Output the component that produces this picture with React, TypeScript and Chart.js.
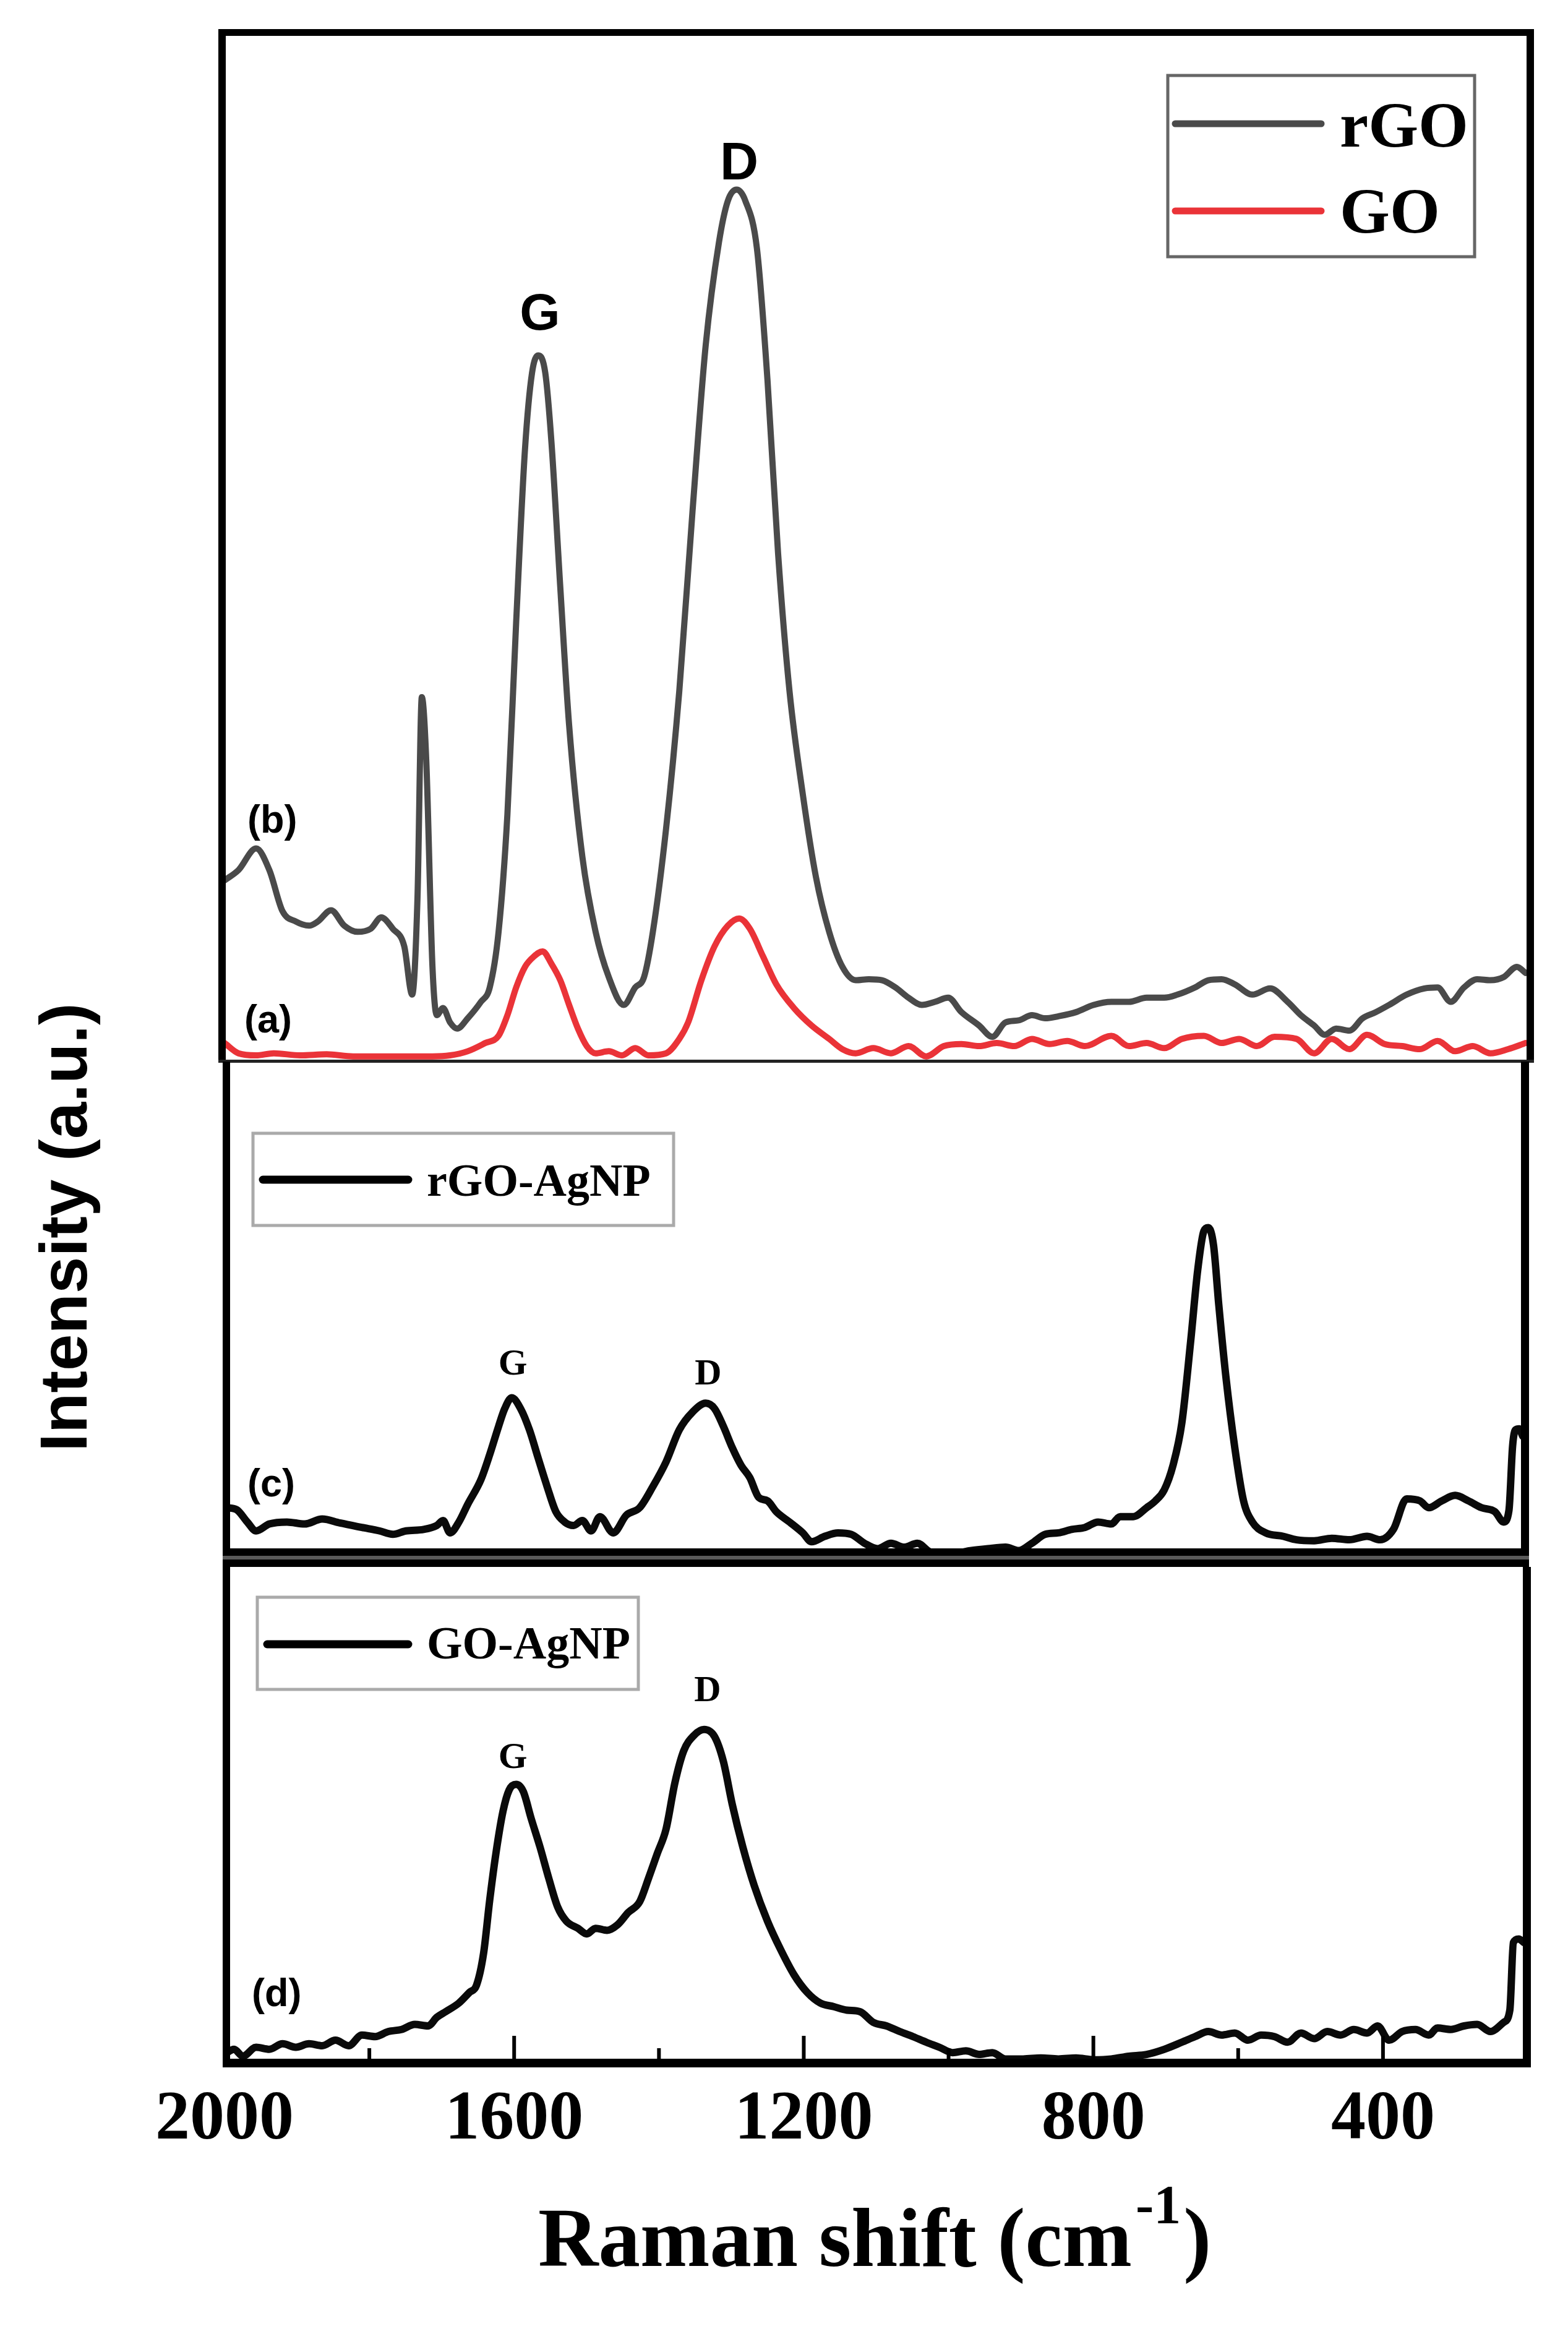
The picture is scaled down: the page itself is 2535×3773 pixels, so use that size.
import React, { useEffect, useRef } from 'react';
import { Chart, registerables } from 'chart.js';

Chart.register(...registerables);

// ---------- data (Raman shift in cm^-1, intensity in a.u. per panel) ----------
const rgoShift = [2000,1980.7,1956.4,1938.1,1919.9,1901.6,1883.3,1871.1,1852.9,1834.6,1816.3,1798.1,1783.5,1767.6,1751.8,1740.8,1733.5,1727.5,1721.4,1712.8,1706.8,1698.2,1688.5,1678.7,1664.1,1645.9,1633.7,1621.5,1609.3,1597.2,1585.0,1575.3,1566.7,1557.0,1548.5,1536.3,1524.1,1505.8,1487.5,1469.3,1448.6,1432.8,1420.6,1408.4,1390.2,1371.9,1353.6,1335.4,1317.1,1304.9,1292.7,1280.6,1264.7,1250.1,1235.5,1219.7,1201.4,1183.1,1164.9,1146.6,1128.3,1110.1,1091.8,1073.5,1055.3,1037.0,1018.8,1000.5,982.2,957.9,939.6,921.4,903.1,884.8,866.5,848.3,823.9,799.6,775.2,750.9,726.5,702.2,683.9,659.6,641.3,623.0,604.7,580.4,556.0,531.7,513.4,495.1,480.5,464.7,446.4,428.2,409.9,391.6,367.3,342.9,324.7,306.4,288.1,269.9,251.6,233.3,215.1,202.9];
const rgoIntensity = [17.6,18.6,20.7,18.6,14.6,13.6,13.2,13.6,14.7,13.2,12.6,12.9,14.0,12.9,11.2,6.5,15.9,35.4,29.3,9.2,4.5,5.2,3.8,3.2,4.2,5.8,7.2,12.6,24.0,42.7,59.5,66.9,68.6,66.9,60.2,46.1,32.7,19.9,12.6,8.2,5.5,7.2,8.2,12.6,22.6,36.0,53.5,69.6,79.6,83.6,84.7,83.6,79.0,66.2,49.4,36.0,26.0,17.9,12.6,9.2,7.9,8.0,7.9,7.2,6.2,5.5,5.8,6.2,4.8,3.5,2.4,3.8,4.0,4.5,4.2,4.4,4.8,5.5,5.8,5.8,6.2,6.2,6.5,7.2,7.9,8.0,7.5,6.5,7.1,5.8,4.5,3.5,2.6,3.2,3.0,4.2,4.8,5.5,6.5,7.1,7.2,5.8,7.2,8.0,7.9,8.2,9.2,8.6];

const goShift = [2000,1980.7,1956.4,1932.0,1895.5,1859.0,1822.4,1785.9,1749.4,1712.8,1688.5,1664.1,1639.8,1621.5,1609.3,1597.2,1585.0,1572.8,1560.6,1548.5,1536.3,1524.1,1511.9,1499.7,1487.5,1469.3,1451.0,1432.8,1414.5,1390.2,1371.9,1359.7,1341.4,1323.2,1304.9,1289.1,1274.5,1256.2,1237.9,1213.6,1189.2,1164.9,1146.6,1128.3,1104.0,1079.6,1055.3,1030.9,1006.6,982.2,957.9,933.5,909.2,884.8,860.5,836.1,811.7,775.2,750.9,726.5,702.2,677.8,647.4,623.0,598.6,574.3,549.9,519.5,495.1,470.8,446.4,422.1,397.7,373.4,349.0,324.7,300.3,276.0,251.6,227.2,202.9];
const goIntensity = [1.8,0.8,0.6,0.8,0.6,0.7,0.5,0.5,0.5,0.5,0.6,1.0,1.8,2.5,4.5,7.2,9.2,10.2,10.7,9.5,7.9,5.5,3.2,1.5,0.8,1.0,0.6,1.3,0.6,0.8,2.2,3.8,7.9,11.2,13.2,13.9,12.9,10.2,7.5,5.2,3.5,2.2,1.2,0.8,1.3,0.8,1.5,0.5,1.5,1.7,1.5,1.8,1.5,2.2,1.7,2.0,1.5,2.5,1.5,1.8,1.3,2.2,2.5,1.8,2.2,1.5,2.4,2.2,0.8,2.2,1.2,2.6,1.7,1.5,1.2,2.0,1.0,1.5,0.8,1.2,1.8];

const rgoAgShift = [1997,1983.2,1968.6,1956.4,1938.1,1913.8,1889.4,1865.1,1840.7,1810.3,1785.9,1767.6,1749.4,1725.0,1706.8,1698.2,1688.5,1676.3,1664.1,1645.9,1633.7,1621.5,1613.0,1603.3,1591.1,1578.9,1566.7,1554.5,1542.4,1530.2,1518.0,1505.8,1493.7,1481.5,1463.2,1445.0,1426.7,1408.4,1390.2,1371.9,1353.6,1335.4,1323.2,1311.0,1298.8,1286.6,1274.5,1262.3,1250.1,1237.9,1219.7,1201.4,1189.2,1171.0,1152.7,1134.4,1116.2,1097.9,1079.6,1061.4,1043.1,1024.8,994.4,970.0,945.7,921.3,903.1,884.8,866.5,848.3,830.0,811.7,793.5,775.2,763.0,744.8,726.5,714.3,702.2,690.0,677.8,665.6,655.9,647.4,641.3,634.0,626.7,617.0,604.7,592.6,580.4,562.1,537.8,519.5,495.1,470.8,446.4,422.1,403.8,385.6,367.3,349.0,336.8,318.6,300.3,282.1,263.8,245.5,233.3,226.0,221.0,217.0,212.0,207.0];
const rgoAgIntensity = [9.5,9.1,6.6,4.8,6.2,6.6,6.2,7.2,6.4,5.5,4.8,4.1,4.8,5.1,5.9,6.9,4.4,6.6,10.2,15.2,20.3,26.0,29.6,31.8,29.6,25.3,19.5,13.8,8.7,6.6,5.9,6.9,4.8,7.7,4.4,8.0,9.5,13.8,18.8,25.3,28.9,30.7,29.6,26.0,21.7,18.1,15.6,11.6,10.9,8.7,6.6,4.4,2.6,3.7,4.4,4.1,2.3,1.2,2.3,1.5,2.3,0.5,0.2,0.8,1.2,1.5,0.8,2.3,4.1,4.4,5.1,5.5,6.6,6.2,7.7,7.7,9.5,10.9,13.1,18.1,26.7,43.3,57.7,65.6,66.3,62.7,50.5,36.1,21.7,10.9,6.6,4.4,3.7,3.0,2.8,3.3,3.0,3.7,3.0,5.1,11.3,10.9,9.5,10.9,12.0,10.9,9.5,8.7,6.6,9.0,22.0,25.3,25.5,24.0];

const goAgShift = [2000,1986.8,1974.7,1956.4,1938.1,1919.9,1901.6,1883.3,1865.1,1846.8,1828.5,1810.3,1792.0,1773.7,1755.5,1737.2,1718.9,1706.8,1694.6,1676.3,1661.7,1652.0,1642.2,1633.7,1625.2,1615.4,1606.9,1597.2,1587.4,1576.5,1564.3,1552.1,1539.9,1527.8,1511.9,1499.7,1487.5,1471.7,1457.1,1442.5,1426.7,1414.5,1402.3,1390.2,1378.0,1365.8,1351.2,1337.8,1323.2,1311.0,1298.8,1284.2,1268.4,1250.1,1231.9,1213.6,1195.3,1177.1,1158.8,1140.5,1122.3,1104.0,1085.7,1067.5,1049.2,1030.9,1012.7,994.4,976.1,957.9,939.6,921.3,897.0,872.6,848.3,823.9,799.6,775.2,750.9,726.5,702.2,677.8,659.6,641.3,623.0,604.7,586.5,568.2,549.9,531.7,513.4,495.1,476.9,458.6,440.3,422.1,407.5,391.6,373.4,355.2,336.8,324.7,306.4,288.1,269.9,251.6,233.3,224.8,219.9,212.6,205.3];
const goAgIntensity = [1.7,2.7,1.35,3.1,2.7,3.8,3.1,3.8,3.4,4.5,3.4,5.5,5.2,6.2,6.6,7.6,7.3,9.0,10.1,11.8,13.9,15.3,21.6,32.1,41.2,49.5,53.7,54.8,53.4,48.1,42.5,36.3,30.7,27.9,26.5,25.4,26.5,26.1,27.2,29.6,31.7,36.3,41.2,46.0,55.1,61.4,64.5,65.6,64.2,59.3,50.9,42.5,34.9,27.9,22.3,17.4,13.9,11.8,11.1,10.4,10.1,8.0,7.3,6.2,5.2,4.1,3.1,2.05,2.4,1.7,2.05,0.8,0.8,1.0,0.8,1.0,0.65,0.8,1.35,1.7,2.7,4.1,5.2,6.2,5.5,5.9,4.5,5.5,5.2,4.1,5.9,4.8,6.2,5.5,6.6,5.9,7.3,4.5,6.2,6.6,5.5,6.9,6.6,7.3,7.6,6.2,8.0,10.4,23.7,24.4,23.7];

const xTickLabels = [2000, 1600, 1200, 800, 400];
const xTickMarks = [1800, 1600, 1400, 1200, 1000, 800, 600, 400];
const topLegend = ['rGO', 'GO'];
const midLegend = 'rGO-AgNP';
const botLegend = 'GO-AgNP';
const panelTags = ['(a)', '(b)', '(c)', '(d)'];
const peakLabels = ['G', 'D'];

// ---------- styles ----------
const W = 2535;
const H = 3773;
const SERIF = "'Liberation Serif', 'Times New Roman', serif";
const SANS = "'Liberation Sans', Arial, sans-serif";
const GRAY = '#4a4a4a';
const RED = '#ea3338';
const BLACK = '#0a0a0a';

const pts = (xs: number[], ys: number[]) => xs.map((x, i) => ({ x, y: ys[i] }));

const decorPlugin = {
  id: 'decor',
  afterDraw(chart: any) {
    const ctx: CanvasRenderingContext2D = chart.ctx;
    const L = chart.chartArea.left;
    const R = chart.chartArea.right;
    const sx = chart.scales.x;
    const t0 = chart.scales.yTop.top;
    const t1 = chart.scales.yTop.bottom;
    const m1 = chart.scales.yMid.bottom;
    const b1 = chart.scales.yBot.bottom;
    ctx.save();

    // --- panel frames ---
    ctx.fillStyle = '#000';
    ctx.fillRect(L - 10, t0 - 5, R - L + 20, 11);
    ctx.fillRect(L - 10, t0 - 5, 12, t1 - t0 + 5);
    ctx.fillRect(R - 2, t0 - 5, 12, t1 - t0 + 7);
    ctx.fillStyle = '#222';
    ctx.fillRect(L - 10, t1 - 3, R - L + 20, 5);
    ctx.fillStyle = '#000';
    ctx.fillRect(L - 3, t1, 12, m1 + 20 - t1);
    ctx.fillRect(R - 11, t1, 13, m1 + 20 - t1);
    ctx.fillRect(L - 3, m1 - 10, R - L + 5, 30);
    ctx.fillStyle = '#5a5a5a';
    ctx.fillRect(L - 3, m1 + 2, R - L + 5, 6);
    ctx.fillStyle = '#000';
    ctx.fillRect(L - 3, m1 + 20, 12, b1 + 7 - (m1 + 20));
    ctx.fillRect(R - 8, m1 + 20, 13, b1 + 7 - (m1 + 20));
    ctx.fillRect(L - 3, b1 - 7, R - L + 8, 14);

    // --- inward tick marks on the bottom axis ---
    ctx.strokeStyle = '#000';
    ctx.lineWidth = 6;
    for (const v of xTickMarks) {
      const px = sx.getPixelForValue(v);
      const len = v % 400 === 0 ? 38 : 18;
      ctx.beginPath();
      ctx.moveTo(px, b1 - 6);
      ctx.lineTo(px, b1 - 6 - len);
      ctx.stroke();
    }

    // --- top legend ---
    ctx.fillStyle = '#fff';
    ctx.fillRect(1888, 122, 496, 293);
    ctx.strokeStyle = '#666';
    ctx.lineWidth = 5;
    ctx.strokeRect(1888, 122, 496, 293);
    ctx.lineCap = 'round';
    ctx.lineWidth = 11;
    ctx.strokeStyle = GRAY;
    ctx.beginPath(); ctx.moveTo(1900, 200); ctx.lineTo(2136, 200); ctx.stroke();
    ctx.strokeStyle = RED;
    ctx.beginPath(); ctx.moveTo(1900, 341); ctx.lineTo(2136, 341); ctx.stroke();
    ctx.fillStyle = '#000';
    ctx.textAlign = 'left';
    ctx.textBaseline = 'alphabetic';
    ctx.font = `bold 104px ${SERIF}`;
    ctx.fillText(topLegend[0], 2166, 237);
    ctx.fillText(topLegend[1], 2166, 376);

    // --- middle & bottom legends ---
    ctx.lineCap = 'butt';
    ctx.strokeStyle = '#aaa';
    ctx.lineWidth = 5;
    ctx.strokeRect(409, 1832, 680, 149);
    ctx.strokeRect(416, 2582, 616, 149);
    ctx.strokeStyle = '#000';
    ctx.lineWidth = 13;
    ctx.lineCap = 'round';
    ctx.beginPath(); ctx.moveTo(425, 1907); ctx.lineTo(660, 1907); ctx.stroke();
    ctx.beginPath(); ctx.moveTo(432, 2658); ctx.lineTo(660, 2658); ctx.stroke();
    ctx.font = `bold 74px ${SERIF}`;
    ctx.fillText(midLegend, 690, 1933);
    ctx.fillText(botLegend, 690, 2681);

    // --- peak labels ---
    ctx.textAlign = 'center';
    ctx.font = `bold 84px ${SANS}`;
    ctx.fillText(peakLabels[0], 873, 533);
    ctx.font = `bold 86px ${SANS}`;
    ctx.fillText(peakLabels[1], 1195, 290);
    ctx.font = `bold 60px ${SERIF}`;
    ctx.fillText(peakLabels[0], 829, 2222);
    ctx.fillText(peakLabels[1], 1145, 2238);
    ctx.fillText(peakLabels[0], 829, 2858);
    ctx.fillText(peakLabels[1], 1144, 2750);

    // --- panel tags ---
    ctx.textAlign = 'left';
    ctx.font = `bold 63px ${SANS}`;
    ctx.fillText(panelTags[1], 400, 1346);
    ctx.fillText(panelTags[0], 395, 1669);
    ctx.fillText(panelTags[2], 400, 2419);
    ctx.fillText(panelTags[3], 407, 3243);

    // --- y title ---
    ctx.save();
    ctx.translate(140, 1984);
    ctx.rotate(-Math.PI / 2);
    ctx.textAlign = 'center';
    ctx.font = `bold 107px ${SANS}`;
    ctx.fillText('Intensity (a.u.)', 0, 0);
    ctx.restore();

    // --- x title with superscript ---
    ctx.textAlign = 'left';
    const main = 'Raman shift (cm';
    ctx.font = `bold 135px ${SERIF}`;
    const x0 = 870;
    ctx.fillText(main, x0, 3663);
    const w1 = ctx.measureText(main).width;
    ctx.font = `bold 88px ${SERIF}`;
    ctx.fillText('-1', x0 + w1 + 6, 3593);
    const w2 = ctx.measureText('-1').width;
    ctx.font = `bold 135px ${SERIF}`;
    ctx.fillText(')', x0 + w1 + w2 + 10, 3663);

    ctx.restore();
  },
};

export default function App() {
  const ref = useRef<HTMLCanvasElement | null>(null);

  useEffect(() => {
    if (!ref.current) return;
    const chart = new Chart(ref.current, {
      type: 'line',
      data: {
        datasets: [
          { label: 'rGO', data: pts(rgoShift, rgoIntensity), yAxisID: 'yTop', borderColor: GRAY, borderWidth: 10 },
          { label: 'GO', data: pts(goShift, goIntensity), yAxisID: 'yTop', borderColor: RED, borderWidth: 10 },
          { label: 'rGO-AgNP', data: pts(rgoAgShift, rgoAgIntensity), yAxisID: 'yMid', borderColor: BLACK, borderWidth: 12 },
          { label: 'GO-AgNP', data: pts(goAgShift, goAgIntensity), yAxisID: 'yBot', borderColor: BLACK, borderWidth: 12 },
        ].map((d) => ({
          ...d,
          xAxisID: 'x',
          pointRadius: 0,
          fill: false,
          cubicInterpolationMode: 'monotone' as const,
          borderJoinStyle: 'round' as const,
          borderCapStyle: 'round' as const,
        })),
      },
      options: {
        animation: false,
        responsive: false,
        devicePixelRatio: 1,
        events: [],
        layout: { autoPadding: false, padding: { left: 363, right: 65, top: 52, bottom: 0 } },
        plugins: { legend: { display: false }, tooltip: { enabled: false }, title: { display: false } },
        scales: {
          x: {
            type: 'linear',
            position: 'bottom',
            min: 200,
            max: 2000,
            reverse: true,
            grid: { display: false, drawTicks: false },
            border: { display: false },
            ticks: {
              stepSize: 200,
              autoSkip: false,
              maxRotation: 0,
              padding: 26,
              color: '#000',
              font: { family: SERIF, size: 112, weight: 'bold' },
              callback: (v: any) => (xTickLabels.includes(Math.round(Number(v))) ? String(Math.round(Number(v))) : ''),
            },
            afterFit: (s: any) => {
              s.height = 438;
              s.paddingLeft = 0;
              s.paddingRight = 0;
            },
          },
          yTop: { type: 'linear', position: 'left', display: false, min: 0, max: 100, stack: 'panels', stackWeight: 1664, weight: 3 },
          yMid: { type: 'linear', position: 'left', display: false, min: 0, max: 100, stack: 'panels', stackWeight: 797, weight: 2 },
          yBot: { type: 'linear', position: 'left', display: false, min: 0, max: 100, stack: 'panels', stackWeight: 822, weight: 1 },
        } as any,
      },
      plugins: [decorPlugin],
    });
    return () => chart.destroy();
  }, []);

  return (
    <div style={{ position: 'absolute', left: 0, top: 0, width: W, height: H, background: '#fff' }}>
      <canvas ref={ref} width={W} height={H} style={{ display: 'block' }} />
    </div>
  );
}
